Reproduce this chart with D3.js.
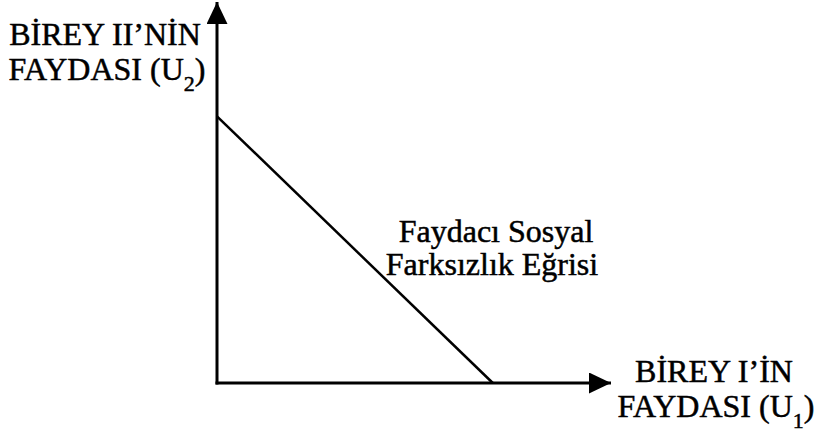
<!DOCTYPE html>
<html>
<head>
<meta charset="utf-8">
<script src="https://cdn.jsdelivr.net/npm/d3@7"></script>
<style>
  body { margin: 0; background: #fff; }
  svg { display: block; }
  text { font-family: "Liberation Serif", "Times New Roman", serif; fill: #000; stroke: #000; stroke-width: 0.5px; }
</style>
</head>
<body>
<div id="chart"></div>
<script>
// axis extents (utility units)
const axisMax = { u1: 10, u2: 10 };
// utilitarian social indifference curve: U1 + U2 = const
const curve = [
  { u1: 0, u2: 7 },
  { u1: 7, u2: 0 }
];
const yLabel = ["BİREY II’NİN", "FAYDASI (U", "2", ")"];
const xLabel = ["BİREY I’İN", "FAYDASI (U", "1", ")"];
const curveLabel = ["Faydacı Sosyal", "Farksızlık Eğrisi"];

let width = 823, height = 432;
let origin = { x: 217, y: 383 };

let x = d3.scaleLinear().domain([0, axisMax.u1]).range([origin.x, 611]);
let y = d3.scaleLinear().domain([0, axisMax.u2]).range([origin.y, 2]);

let $svg = d3.select('#chart').append('svg')
  .attr('width', width)
  .attr('height', height);

let defs = $svg.append('defs');
defs.append('marker')
  .attr('id', 'arrow')
  .attr('viewBox', '0 0 22 21')
  .attr('refX', 22)
  .attr('refY', 10.5)
  .attr('markerWidth', 22)
  .attr('markerHeight', 21)
  .attr('markerUnits', 'userSpaceOnUse')
  .attr('orient', 'auto')
  .append('path')
  .attr('d', 'M0,0 L22,10.5 L0,21 Z')
  .attr('fill', '#000');

// axes
$svg.append('line')
  .attr('x1', x(0)).attr('y1', y(0) + 1.5)
  .attr('x2', x(0)).attr('y2', y(axisMax.u2))
  .attr('stroke', '#000').attr('stroke-width', 3)
  .attr('marker-end', 'url(#arrow)');
$svg.append('line')
  .attr('x1', x(0) - 1.5).attr('y1', y(0))
  .attr('x2', x(axisMax.u1)).attr('y2', y(0))
  .attr('stroke', '#000').attr('stroke-width', 3)
  .attr('marker-end', 'url(#arrow)');

// indifference curve
$svg.append('path')
  .datum(curve)
  .attr('d', d3.line().x(d => x(d.u1)).y(d => y(d.u2)))
  .attr('fill', 'none')
  .attr('stroke', '#000')
  .attr('stroke-width', 2.5);

let fs = 32;
let addAxisLabel = (lines, cx, y0) => {
  let g = $svg.append('g');
  g.append('text')
    .attr('x', cx).attr('y', y0)
    .attr('text-anchor', 'middle')
    .style('font-size', fs + 'px')
    .text(lines[0]);
  let t = g.append('text')
    .attr('x', cx + 2).attr('y', y0 + 35)
    .attr('text-anchor', 'middle')
    .style('font-size', fs + 'px');
  t.append('tspan').text(lines[1]);
  t.append('tspan').attr('dy', 11).style('font-size', '22px').text(lines[2]);
  t.append('tspan').attr('dy', -11).text(lines[3]);
};
addAxisLabel(yLabel, 105, 45);
addAxisLabel(xLabel, 714, 382);

$svg.append('g')
  .selectAll('text')
  .data(curveLabel)
  .join('text')
  .attr('x', (d, i) => i ? 492 : 496)
  .attr('y', (d, i) => 242 + i * 33)
  .attr('text-anchor', 'middle')
  .style('font-size', fs + 'px')
  .text(d => d);
</script>
</body>
</html>
